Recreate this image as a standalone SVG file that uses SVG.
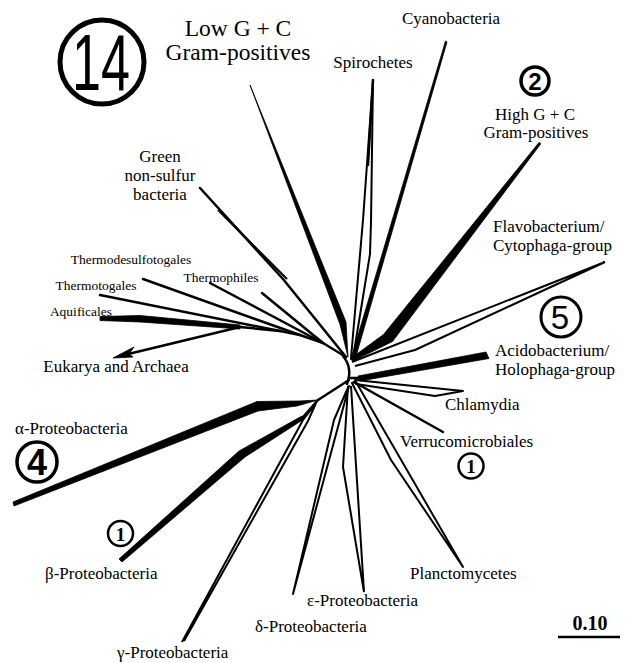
<svg xmlns="http://www.w3.org/2000/svg" width="630" height="663" viewBox="0 0 630 663">
<style>
.l{font-family:Liberation Serif,serif;font-size:17px;fill:#000}
.s{font-size:13.5px}
.b{font-size:23.5px}
.br{fill:none;stroke:#000;stroke-width:2.5;stroke-linejoin:round;stroke-linecap:round}
.sl{fill:none;stroke:#000;stroke-width:2;stroke-linejoin:round}
.w{fill:#000;stroke:#000;stroke-width:0.8;stroke-linejoin:round}
.c{fill:none;stroke:#000}
.n{font-family:Liberation Sans,sans-serif;fill:#000;text-anchor:middle}
</style>
<rect width="630" height="663" fill="#fff"/>
<g id="connectors">
  <path class="br" d="M343,356 Q353,368 347,384" stroke-width="3"/>
  <path class="br" d="M240,327 L280,331 L300,335 L323,343 L346,357" stroke-width="3"/>
  <polygon class="w" points="100,316.5 140,315.5 240,325 240,329 140,322 100,320.5"/>
  <path class="br" d="M240,327 L120,356" stroke-width="3"/>
  <polygon class="w" points="113,358 134,347 129,354 133,357"/>
  <path class="br" d="M100,295 L280,331"/>
  <path class="br" d="M143,279 L300,335"/>
  <path class="br" d="M210,283 L323,343"/>
  <path class="br" d="M262,293 L323,343"/>
  <path class="br" d="M200,188 L283,279 L346,357" stroke-width="3"/>
  <path class="sl" d="M218,210 L287,279"/>
  <polygon class="w" points="250,85 346,322 348,357 340,324.5"/>
  <polygon class="sl" points="373,80 371,222 370,254 353,358 351,358 363,220"/>
  <path class="br" d="M373,80 L368,165" stroke-width="3"/>
  <polygon class="w" points="445.5,41 447,42 355.5,358 351.5,357"/>
  <polygon class="w" points="539.2,142.3 540.8,143.7 392.5,341.5 353,361 350,359 383.5,334.5"/>
  <path class="sl" d="M605,262 L352,362 M605,262 L540,292 L415,350 L355,366"/>
  <path class="br" d="M351,378 L360,378"/>
  <polygon class="w" points="358,376 486,352 489,358.5 360,381"/>
  <polygon class="sl" points="355,380 463,391 435,396 356,384"/>
  <path class="br" d="M354,382 L443,432"/>
  <polygon class="sl" points="352,383 391,460 463,567 400,458 356,382"/>
  <path class="sl" d="M348,386 L343,467 L364,592 M351,386 L364,592"/>
  <polygon class="sl" points="349,386 293,594 334,420 346,392"/>
  <path class="br" d="M349,380 L318,400"/>
  <polygon class="w" points="13,502 257,401.5 300,401 318,400 297,406 258,411 14,506"/>
  <path class="br" d="M318,400 L303,417"/>
  <polygon class="w" points="119,559 239,451 302,416 304,419 245,457 122,562"/>
  <path class="sl" d="M316,403 L303,420 L182,642 M316,403 L308,421 L184,641"/>
</g>
<g id="lowgc">
  <circle class="c" cx="102" cy="62" r="42" stroke-width="5"/>
  <text class="n" x="101" y="90" font-size="80" textLength="58" lengthAdjust="spacingAndGlyphs">14</text>
  <text class="l b" x="238" y="36" text-anchor="middle">Low G + C</text>
  <text class="l b" x="238" y="60" text-anchor="middle">Gram-positives</text>
</g>
<g id="cyano"><text class="l" x="451" y="24" text-anchor="middle">Cyanobacteria</text></g>
<g id="spiro"><text class="l" x="373" y="68" text-anchor="middle">Spirochetes</text></g>
<g id="highgc">
  <circle class="c" cx="535" cy="81" r="14" stroke-width="3.5"/>
  <text class="n" x="535" y="90" font-size="24" font-weight="bold">2</text>
  <text class="l" x="535" y="120" text-anchor="middle">High G + C</text>
  <text class="l" x="536" y="138" text-anchor="middle">Gram-positives</text>
</g>
<g id="green">
  <text class="l" x="160" y="162" text-anchor="middle">Green</text>
  <text class="l" x="160" y="181" text-anchor="middle">non-sulfur</text>
  <text class="l" x="160" y="200" text-anchor="middle">bacteria</text>
</g>
<g id="thermodesulfo"><text class="l s" x="131" y="264" text-anchor="middle">Thermodesulfotogales</text></g>
<g id="thermotogales"><text class="l s" x="96" y="290" text-anchor="middle">Thermotogales</text></g>
<g id="thermophiles"><text class="l s" x="221" y="282" text-anchor="middle">Thermophiles</text></g>
<g id="aquificales"><text class="l s" x="81" y="316" text-anchor="middle">Aquificales</text></g>
<g id="eukarya"><text class="l" x="116" y="372" text-anchor="middle">Eukarya and Archaea</text></g>
<g id="flavo">
  <text class="l" x="493" y="232">Flavobacterium/</text>
  <text class="l" x="493" y="251">Cytophaga-group</text>
</g>
<g id="acido">
  <circle class="c" cx="561" cy="317" r="20" stroke-width="3"/>
  <text class="n" x="560" y="329" font-size="33">5</text>
  <text class="l" x="495" y="356">Acidobacterium/</text>
  <text class="l" x="495" y="375">Holophaga-group</text>
</g>
<g id="chlamydia"><text class="l" x="445" y="410">Chlamydia</text></g>
<g id="verruco">
  <text class="l" x="400" y="447">Verrucomicrobiales</text>
  <circle class="c" cx="471" cy="466" r="12.5" stroke-width="2.5"/>
  <text x="471" y="473" font-family="Liberation Serif,serif" font-weight="bold" font-size="19" text-anchor="middle">1</text>
</g>
<g id="plancto"><text class="l" x="410" y="579">Planctomycetes</text></g>
<g id="epsilon"><text class="l" x="307" y="606">ε-Proteobacteria</text></g>
<g id="delta"><text class="l" x="255" y="632">δ-Proteobacteria</text></g>
<g id="gamma"><text class="l" x="117" y="658">γ-Proteobacteria</text></g>
<g id="beta">
  <circle class="c" cx="120.5" cy="533.5" r="12.5" stroke-width="2.5"/>
  <text x="120.5" y="540.5" font-family="Liberation Serif,serif" font-weight="bold" font-size="19" text-anchor="middle">1</text>
  <text class="l" x="45" y="579">β-Proteobacteria</text>
</g>
<g id="alpha">
  <text class="l" x="15" y="434">α-Proteobacteria</text>
  <circle class="c" cx="37" cy="462" r="20" stroke-width="3.5"/>
  <text class="n" x="37" y="475" font-size="36" font-weight="bold">4</text>
</g>
<g id="scale">
  <text x="590" y="630" font-family="Liberation Serif,serif" font-weight="bold" font-size="20" text-anchor="middle">0.10</text>
  <line x1="558" y1="637" x2="620" y2="637" stroke="#000" stroke-width="2.5"/>
</g>
</svg>
